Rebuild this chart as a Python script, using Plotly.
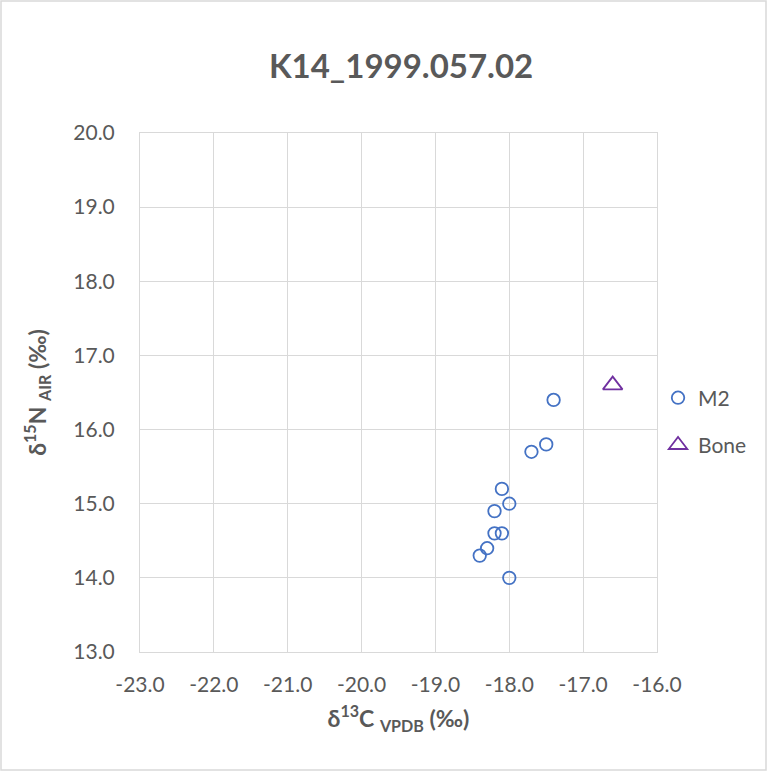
import plotly.graph_objects as go

m2_x = [-17.4, -17.5, -17.7, -18.1, -18.0, -18.2, -18.2, -18.1, -18.3, -18.4, -18.0]
m2_y = [16.4, 15.8, 15.7, 15.2, 15.0, 14.9, 14.6, 14.6, 14.4, 14.3, 14.0]
bone_x = [-16.6]
bone_y = [16.6]

title = "K14_1999.057.02"
x_ticks = [-23, -22, -21, -20, -19, -18, -17, -16]
x_tick_text = ["-23.0", "-22.0", "-21.0", "-20.0", "-19.0", "-18.0", "-17.0", "-16.0"]
y_ticks = [13, 14, 15, 16, 17, 18, 19, 20]
y_tick_text = ["13.0", "14.0", "15.0", "16.0", "17.0", "18.0", "19.0", "20.0"]

FONT = "Lato"
GREY = "#595959"

fig = go.Figure()
fig.add_trace(go.Scatter(
    x=m2_x, y=m2_y, mode="markers", name="M2", legendgroup="a",
    marker=dict(symbol="circle-open", size=12.5, color="#4472C4", line=dict(width=1.8, color="#4472C4"))))
fig.add_trace(go.Scatter(
    x=bone_x, y=bone_y, mode="markers", name="Bone", legendgroup="b",
    marker=dict(symbol="triangle-up-open", size=17, color="#7030A0", line=dict(width=1.8, color="#7030A0"))))

axis_common = dict(
    showgrid=True, gridcolor="#d9d9d9", gridwidth=1, zeroline=False,
    showline=True, linecolor="#d9d9d9", mirror=True, ticks="", automargin=False,
    tickfont=dict(family=FONT, size=21, color=GREY), tickmode="array",
)
fig.update_layout(
    width=768, height=772,
    paper_bgcolor="white", plot_bgcolor="white",
    margin=dict(l=140, r=111, t=133, b=120, autoexpand=False),
    title=dict(text="<b>" + title + "</b>", xref="paper", x=0.505, xanchor="center",
               y=0.9145, yanchor="middle",
               font=dict(family=FONT, size=33, color=GREY)),
    xaxis=dict(range=[-23, -16], tickvals=x_ticks, ticktext=x_tick_text, ticklabelstandoff=14,
               title=dict(text="δ<sup>13</sup>C <sub>VPDB</sub> (‰)", standoff=15,
                          font=dict(family=FONT, size=23, color=GREY, weight="bold")),
               **axis_common),
    yaxis=dict(range=[13, 20], tickvals=y_ticks, ticktext=y_tick_text, ticklabelstandoff=20,
               title=dict(text="δ<sup>15</sup>N <sub>AIR</sub> (‰)", standoff=20,
                          font=dict(family=FONT, size=23, color=GREY, weight="bold")),
               **axis_common),
    legend=dict(x=1.002, xanchor="left", y=0.444, yanchor="middle", traceorder="grouped",
                tracegroupgap=17, font=dict(family=FONT, size=21, color=GREY),
                itemwidth=30, bgcolor="rgba(0,0,0,0)"),
)
fig.add_shape(type="rect", xref="paper", yref="paper",
              x0=-139/517, x1=1+109/517, y0=-118/519, y1=1+132/519,
              line=dict(color="#d9d9d9", width=1.5), layer="below")
fig.write_html("out.html", config={"displayModeBar": False},
               post_script="document.body.style.margin='0';")
